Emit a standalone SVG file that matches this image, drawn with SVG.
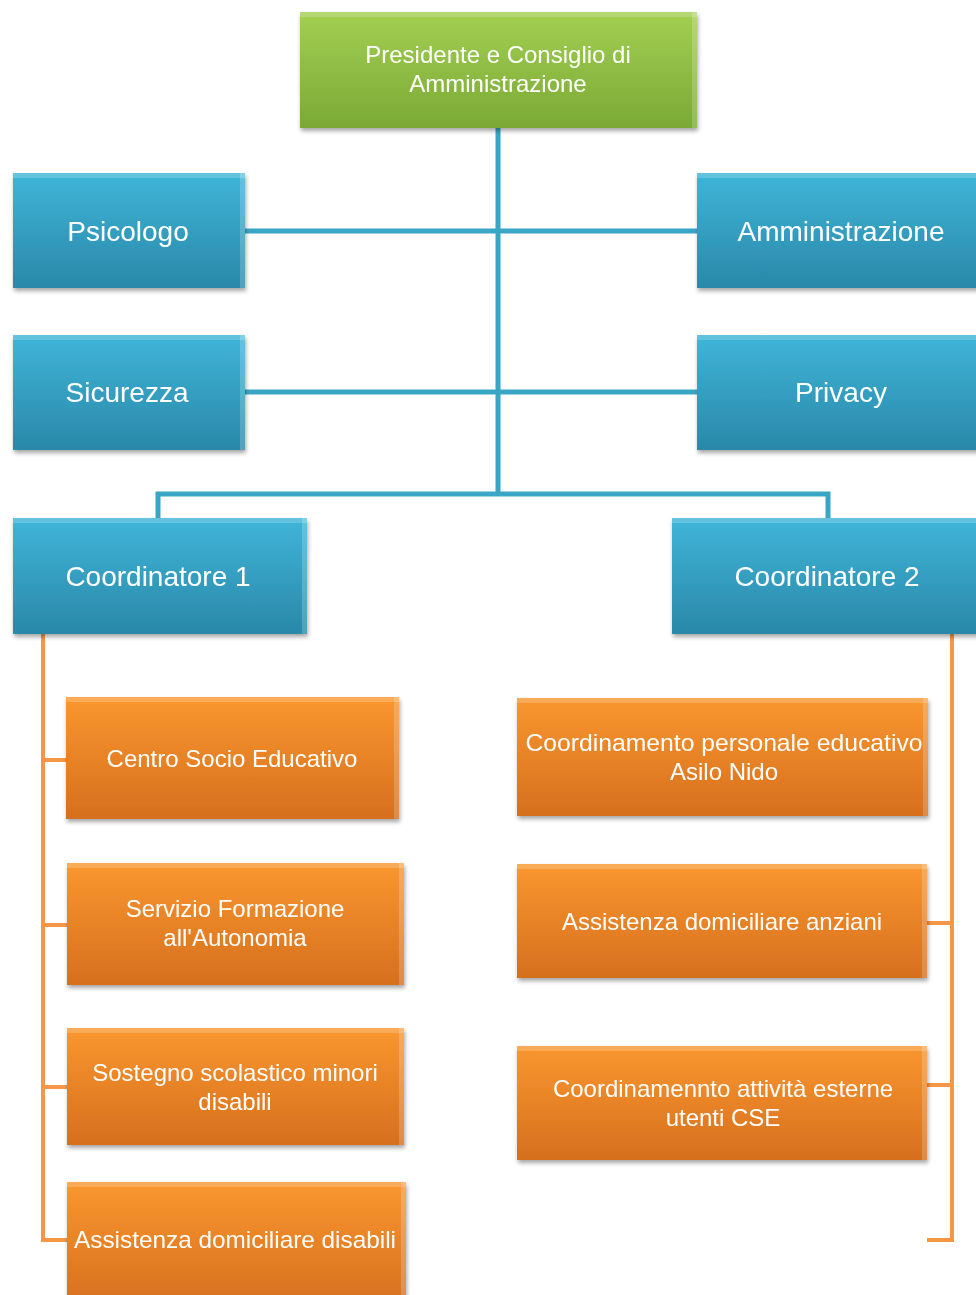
<svg xmlns="http://www.w3.org/2000/svg" width="976" height="1295" viewBox="0 0 976 1295">
<defs>
<linearGradient id="gGreen" x1="0" y1="0" x2="0" y2="1"><stop offset="0" stop-color="#a3cf52"/><stop offset="1" stop-color="#7aa935"/></linearGradient>
<linearGradient id="gBlue" x1="0" y1="0" x2="0" y2="1"><stop offset="0" stop-color="#3fb5d8"/><stop offset="1" stop-color="#2a88a9"/></linearGradient>
<linearGradient id="gOrange" x1="0" y1="0" x2="0" y2="1"><stop offset="0" stop-color="#f9972f"/><stop offset="1" stop-color="#d66f1e"/></linearGradient>
<filter id="sh" x="-5%" y="-5%" width="112%" height="120%"><feDropShadow dx="1" dy="3" stdDeviation="2" flood-color="#000" flood-opacity="0.35"/></filter>
</defs>
<style>
.box{filter:url(#sh)}
.bl{fill:url(#gBlue)}
.or{fill:url(#gOrange)}
.gr{fill:url(#gGreen)}
.hl{fill:#ffffff;opacity:0.2}
.t{font-family:"Liberation Sans",Arial,sans-serif;fill:#ffffff;text-anchor:middle}
.big{font-size:28px}
.sm{font-size:24px}
.cb{stroke:#3aa6c6;stroke-width:5;fill:none}
.co{stroke:#f79646;stroke-width:4;fill:none}
</style>
<rect width="976" height="1295" fill="#ffffff"/>
<g id="connectors">
<path class="cb" d="M498 126 V494 M158 520 V494 H828 V520 M245 231 H697 M245 392 H697"/>
<path class="co" d="M43 634 V1240 H67 M43 760 H67 M43 925 H67 M43 1087 H67"/>
<path class="co" d="M952 634 V1240 H927 M952 923 H927 M952 1085 H927"/>
</g>
<g id="n-presidente" class="box"><rect class="gr" x="300" y="12" width="397" height="116"/><rect class="hl" x="300" y="12" width="397" height="5"/><rect class="hl" x="692" y="12" width="5" height="116"/>
<text class="t sm" x="498" y="63">Presidente e Consiglio di</text><text class="t sm" x="498" y="92">Amministrazione</text></g>
<g id="n-psicologo" class="box"><rect class="bl" x="13" y="173" width="232" height="115"/><rect class="hl" x="13" y="173" width="232" height="5"/><rect class="hl" x="240" y="173" width="5" height="115"/>
<text class="t big" x="128" y="241">Psicologo</text></g>
<g id="n-amministrazione" class="box"><rect class="bl" x="697" y="173" width="285" height="115"/><rect class="hl" x="697" y="173" width="285" height="5"/>
<text class="t big" x="841" y="241">Amministrazione</text></g>
<g id="n-sicurezza" class="box"><rect class="bl" x="13" y="335" width="232" height="115"/><rect class="hl" x="13" y="335" width="232" height="5"/><rect class="hl" x="240" y="335" width="5" height="115"/>
<text class="t big" x="127" y="402">Sicurezza</text></g>
<g id="n-privacy" class="box"><rect class="bl" x="697" y="335" width="285" height="115"/><rect class="hl" x="697" y="335" width="285" height="5"/>
<text class="t big" x="841" y="402">Privacy</text></g>
<g id="n-coord1" class="box"><rect class="bl" x="13" y="518" width="294" height="116"/><rect class="hl" x="13" y="518" width="294" height="5"/><rect class="hl" x="302" y="518" width="5" height="116"/>
<text class="t big" x="158" y="586">Coordinatore 1</text></g>
<g id="n-coord2" class="box"><rect class="bl" x="672" y="518" width="310" height="116"/><rect class="hl" x="672" y="518" width="310" height="5"/>
<text class="t big" x="827" y="586">Coordinatore 2</text></g>
<g id="n-cse" class="box"><rect class="or" x="66" y="697" width="333" height="122"/><rect class="hl" x="66" y="697" width="333" height="5"/><rect class="hl" x="394" y="697" width="5" height="122"/>
<text class="t sm" x="232" y="767">Centro Socio Educativo</text></g>
<g id="n-sfa" class="box"><rect class="or" x="67" y="863" width="337" height="122"/><rect class="hl" x="67" y="863" width="337" height="5"/><rect class="hl" x="399" y="863" width="5" height="122"/>
<text class="t sm" x="235" y="917">Servizio Formazione</text><text class="t sm" x="235" y="946">all'Autonomia</text></g>
<g id="n-sostegno" class="box"><rect class="or" x="67" y="1028" width="337" height="117"/><rect class="hl" x="67" y="1028" width="337" height="5"/><rect class="hl" x="399" y="1028" width="5" height="117"/>
<text class="t sm" x="235" y="1081">Sostegno scolastico minori</text><text class="t sm" x="235" y="1110">disabili</text></g>
<g id="n-add" class="box"><rect class="or" x="67" y="1182" width="339" height="125"/><rect class="hl" x="67" y="1182" width="339" height="5"/><rect class="hl" x="401" y="1182" width="5" height="125"/>
<text class="t sm" x="235" y="1248" textLength="322" lengthAdjust="spacingAndGlyphs">Assistenza domiciliare disabili</text></g>
<g id="n-asilo" class="box"><rect class="or" x="517" y="698" width="411" height="118"/><rect class="hl" x="517" y="698" width="411" height="5"/><rect class="hl" x="923" y="698" width="5" height="118"/>
<text class="t sm" x="724" y="751" textLength="397" lengthAdjust="spacingAndGlyphs">Coordinamento personale educativo</text><text class="t sm" x="724" y="780">Asilo Nido</text></g>
<g id="n-ada" class="box"><rect class="or" x="517" y="864" width="410" height="114"/><rect class="hl" x="517" y="864" width="410" height="5"/><rect class="hl" x="922" y="864" width="5" height="114"/>
<text class="t sm" x="722" y="930">Assistenza domiciliare anziani</text></g>
<g id="n-esterne" class="box"><rect class="or" x="517" y="1046" width="410" height="114"/><rect class="hl" x="517" y="1046" width="410" height="5"/><rect class="hl" x="922" y="1046" width="5" height="114"/>
<text class="t sm" x="723" y="1097">Coordinamennto attività esterne</text><text class="t sm" x="723" y="1126">utenti CSE</text></g>
</svg>
